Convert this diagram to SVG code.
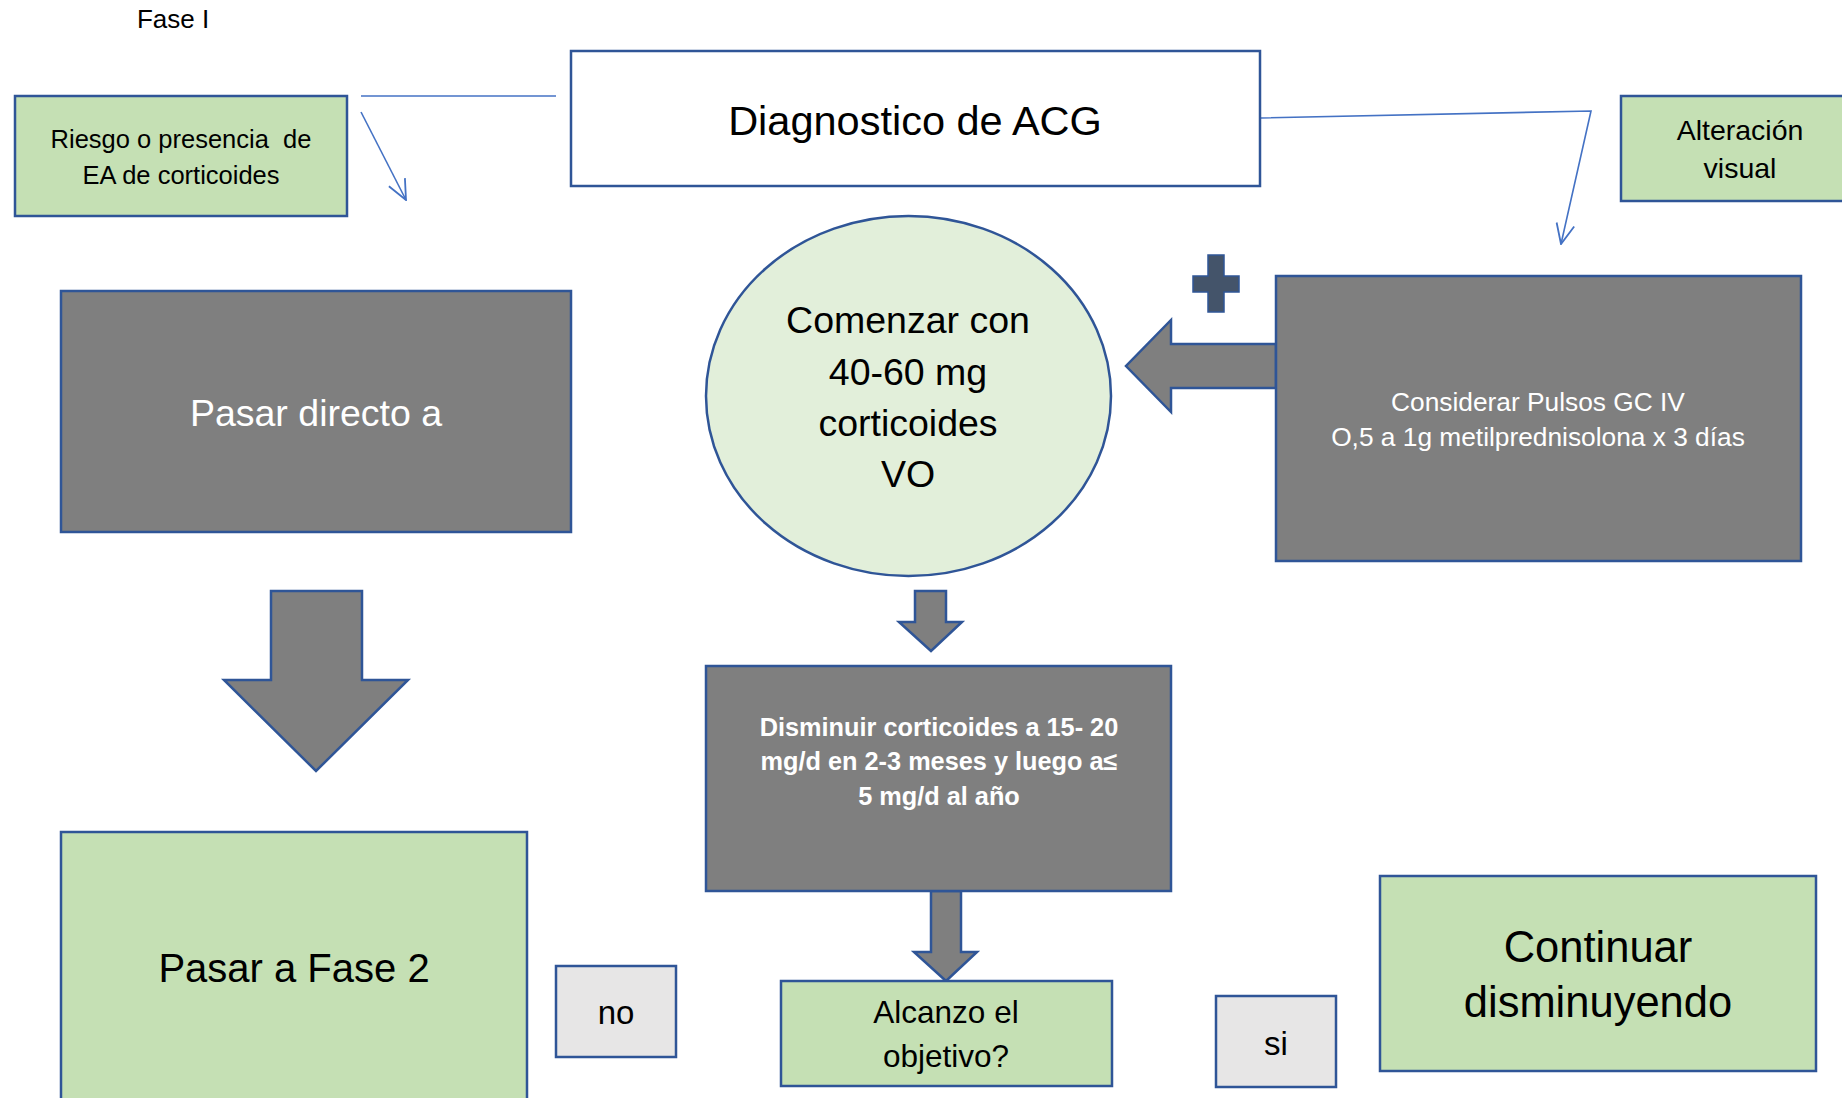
<svg xmlns="http://www.w3.org/2000/svg" width="1842" height="1098" viewBox="0 0 1842 1098">
  <style>
    .box { stroke: #2f5597; stroke-width: 2.5; }
    .green { fill: #c5e0b4; }
    .grey { fill: #7f7f7f; }
    .light { fill: #e7e6e6; }
    .white { fill: #ffffff; }
    .txt { font-family: "Liberation Sans", Arial, sans-serif; text-anchor: middle; fill: #000000; }
    .wtxt { font-family: "Liberation Sans", Arial, sans-serif; text-anchor: middle; fill: #ffffff; }
    .link { fill: none; stroke: #4472c4; stroke-width: 1.6; }
    .block { fill: #7f7f7f; stroke: #2f5597; stroke-width: 2.5; stroke-linejoin: miter; }
  </style>
  <defs>
    <marker id="vhead" viewBox="0 0 22 20" refX="21" refY="10" markerWidth="22" markerHeight="20" markerUnits="userSpaceOnUse" orient="auto">
      <path d="M1,1 L21,10 L1,19" fill="none" stroke="#4472c4" stroke-width="1.8"/>
    </marker>
  </defs>

  <rect width="1842" height="1098" fill="#ffffff"/>

  <!-- phase title -->
  <text x="173" y="28" class="txt" font-size="26">Fase I</text>

  <!-- connectors: thin links and block arrows -->
  <g id="connectors">
    <line x1="556" y1="96" x2="361" y2="96" class="link"/>
    <line x1="361" y1="112" x2="406" y2="200" class="link" marker-end="url(#vhead)"/>
    <polyline points="1261,118 1591,111 1561,244" class="link" marker-end="url(#vhead)"/>
    <!-- Pasar directo a -> Fase 2 -->
    <polygon class="block" points="271,591 362,591 362,680 408,680 316,771 224,680 271,680"/>
    <!-- ellipse -> Disminuir -->
    <polygon class="block" points="915,591 946,591 946,622 962,622 931,651 899,622 915,622"/>
    <!-- Disminuir -> Alcanzo -->
    <polygon class="block" points="931,891 961,891 961,952 977,952 946,981 914,952 931,952"/>
    <!-- Pulsos -> ellipse -->
    <polygon class="block" points="1276,344 1171,344 1171,320 1126,366 1171,412 1171,388 1276,388"/>
  </g>

  <g id="riesgo">
    <rect x="15" y="96" width="332" height="120" class="box green"/>
    <text class="txt" font-size="25.5" style="white-space:pre"><tspan x="181" y="148">Riesgo o presencia  de</tspan><tspan x="181" y="184">EA de corticoides</tspan></text>
  </g>

  <g id="diagnostico">
    <rect x="571" y="51" width="689" height="135" class="box white"/>
    <text x="915" y="135" class="txt" font-size="41.5">Diagnostico de ACG</text>
  </g>

  <g id="alteracion">
    <rect x="1621" y="96" width="230" height="105" class="box green"/>
    <text class="txt" font-size="28.5"><tspan x="1740" y="140">Alteración</tspan><tspan x="1740" y="178">visual</tspan></text>
  </g>

  <g id="pasar-directo">
    <rect x="61" y="291" width="510" height="241" class="box grey"/>
    <text x="316" y="426" class="wtxt" font-size="37.5">Pasar directo a</text>
  </g>

  <g id="comenzar">
    <ellipse cx="908.5" cy="396" rx="202.5" ry="180" fill="#e2efda" stroke="#2f5597" stroke-width="2.5"/>
    <text class="txt" font-size="37.5"><tspan x="908" y="333">Comenzar con</tspan><tspan x="908" y="385">40-60 mg</tspan><tspan x="908" y="436">corticoides</tspan><tspan x="908" y="487">VO</tspan></text>
  </g>

  <g id="plus">
    <path d="M1208,255 H1224 V276 H1239 V292 H1224 V312 H1208 V292 H1193 V276 H1208 Z" fill="#44546a" stroke="#2f5597" stroke-width="1.5"/>
  </g>

  <g id="pulsos">
    <rect x="1276" y="276" width="525" height="285" class="box grey"/>
    <text class="wtxt" font-size="26.3"><tspan x="1538" y="411">Considerar Pulsos GC IV</tspan><tspan x="1538" y="446">O,5 a 1g metilprednisolona x 3 días</tspan></text>
  </g>

  <g id="disminuir">
    <rect x="706" y="666" width="465" height="225" class="box grey"/>
    <text class="wtxt" font-size="25.3" font-weight="bold"><tspan x="939" y="736">Disminuir corticoides a 15- 20</tspan><tspan x="939" y="770">mg/d en 2-3 meses y luego a≤</tspan><tspan x="939" y="805">5 mg/d al año</tspan></text>
  </g>

  <g id="alcanzo">
    <rect x="781" y="981" width="331" height="105" class="box green"/>
    <text class="txt" font-size="31.5"><tspan x="946" y="1023">Alcanzo el</tspan><tspan x="946" y="1067">objetivo?</tspan></text>
  </g>

  <g id="fase2">
    <rect x="61" y="832" width="466" height="280" class="box green"/>
    <text x="294" y="982" class="txt" font-size="40">Pasar a Fase 2</text>
  </g>

  <g id="no">
    <rect x="556" y="966" width="120" height="91" class="box light"/>
    <text x="616" y="1024" class="txt" font-size="33">no</text>
  </g>

  <g id="si">
    <rect x="1216" y="996" width="120" height="91" class="box light"/>
    <text x="1276" y="1055" class="txt" font-size="33">si</text>
  </g>

  <g id="continuar">
    <rect x="1380" y="876" width="436" height="195" class="box green"/>
    <text class="txt" font-size="43.5"><tspan x="1598" y="962">Continuar</tspan><tspan x="1598" y="1017">disminuyendo</tspan></text>
  </g>
</svg>
